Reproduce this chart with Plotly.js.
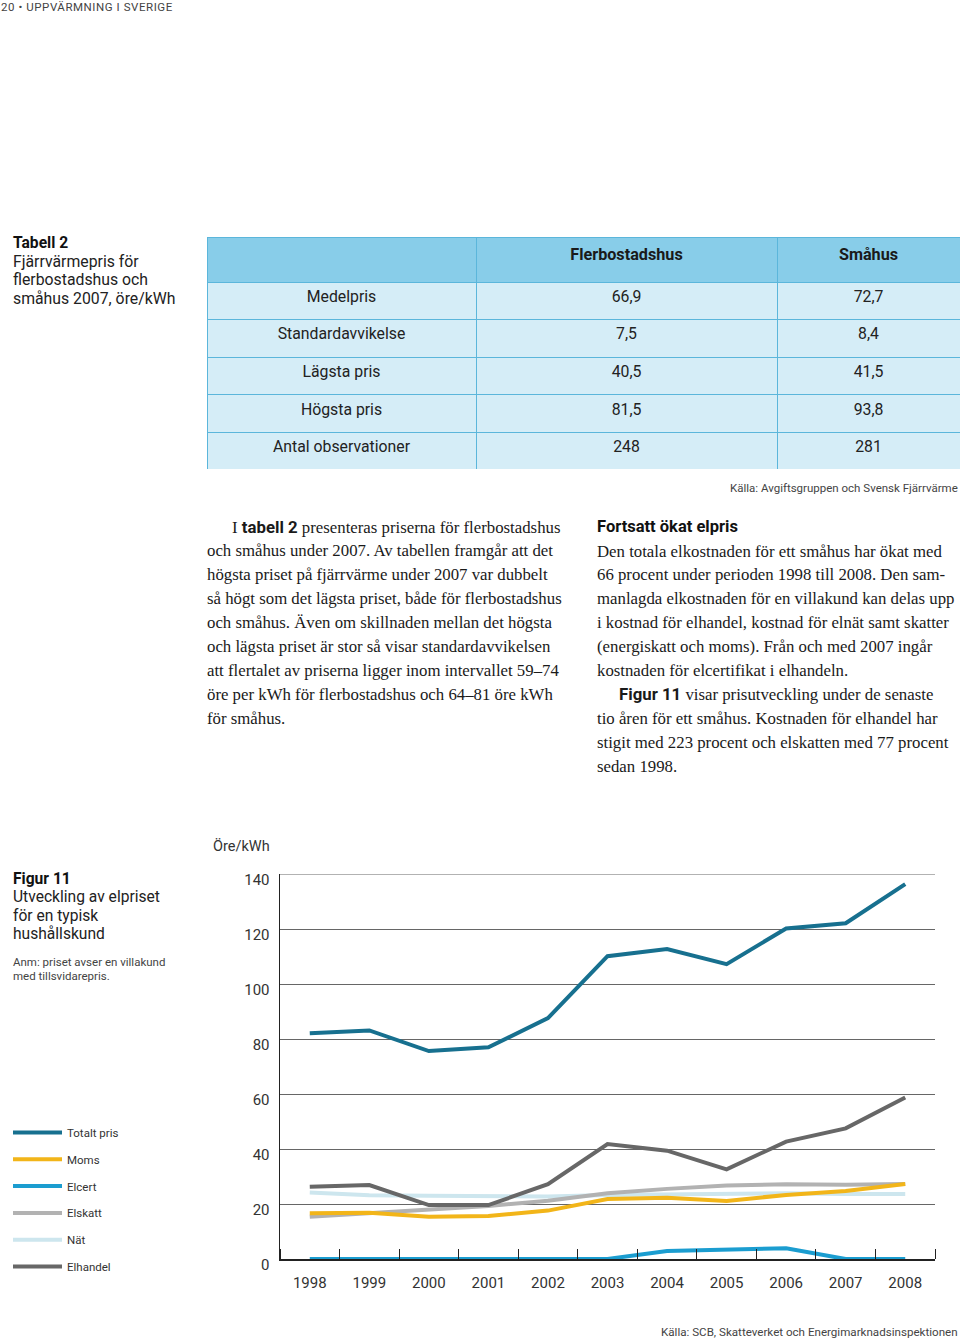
<!DOCTYPE html>
<html>
<head>
<meta charset="utf-8">
<script src="https://cdn.plot.ly/plotly-3.0.1.min.js"></script>
<style>html,body{margin:0;padding:0;background:#fff;}#chart{width:960px;height:1340px;}</style>
</head>
<body>
<div id="chart"></div>
<script>
// ---------- Data ----------
const years = [1998,1999,2000,2001,2002,2003,2004,2005,2006,2007,2008];
const totaltPris = [82.1,83.1,75.6,77.0,87.6,110.1,112.7,107.2,120.2,122.1,136.3];
const moms      = [16.6,16.8,15.4,15.6,17.6,21.8,22.3,21.1,23.3,24.7,27.3];
const elcert    = [0,0,0,0,0,0,2.9,3.5,3.9,0,0];
const elskatt   = [15.4,16.8,18.1,19.3,21.2,23.9,25.5,26.7,27.2,27.0,27.3];
const nat       = [24.2,23.2,23.0,22.8,22.7,23.3,23.5,23.9,23.9,23.6,23.6];
const elhandel  = [26.3,26.9,19.6,19.6,27.2,41.8,39.4,32.6,42.7,47.5,58.7];
const yTicks    = [0,20,40,60,80,100,120,140];

const tableHeader = ['', 'Flerbostadshus', 'Småhus'];
const tableRowLabels = ['Medelpris','Standardavvikelse','Lägsta pris','Högsta pris','Antal observationer'];
const tableFler = ['66,9','7,5','40,5','81,5','248'];
const tableSmahus = ['72,7','8,4','41,5','93,8','281'];

const leftParagraph = [
  'I <span style="font-family:Roboto;font-weight:bold">tabell 2</span> presenteras priserna för flerbostadshus',
  'och småhus under 2007. Av tabellen framgår att det',
  'högsta priset på fjärrvärme under 2007 var dubbelt',
  'så högt som det lägsta priset, både för flerbostadshus',
  'och småhus. Även om skillnaden mellan det högsta',
  'och lägsta priset är stor så visar standardavvikelsen',
  'att flertalet av priserna ligger inom intervallet 59–74',
  'öre per kWh för flerbostadshus och 64–81 öre kWh',
  'för småhus.'
];
const rightParagraph = [
  'Den totala elkostnaden för ett småhus har ökat med',
  '66 procent under perioden 1998 till 2008. Den sam-',
  'manlagda elkostnaden för en villakund kan delas upp',
  'i kostnad för elhandel, kostnad för elnät samt skatter',
  '(energiskatt och moms). Från och med 2007 ingår',
  'kostnaden för elcertifikat i elhandeln.',
  '<span style="font-family:Roboto;font-weight:bold">Figur 11</span> visar prisutveckling under de senaste',
  'tio åren för ett småhus. Kostnaden för elhandel har',
  'stigit med 223 procent och elskatten med 77 procent',
  'sedan 1998.'
];
const tableCaption = ['Fjärrvärmepris för','flerbostadshus och','småhus 2007, öre/kWh'];
const figCaption = ['Utveckling av elpriset','för en typisk','hushållskund'];
const figNote = ['Anm: priset avser en villakund','med tillsvidarepris.'];

// ---------- Layout helpers ----------
const W = 960, H = 1340;
const px = x => x / W;
const py = y => 1 - y / H;
const SANS = 'Roboto, "Liberation Sans", sans-serif';
const SERIF = '"Liberation Serif", "DejaVu Serif", serif';
const annotations = [];
function ann(text, x, y, size, opts) {
  opts = opts || {};
  annotations.push({
    text: text, x: px(x), y: py(y), xref: 'paper', yref: 'paper',
    xanchor: opts.xanchor || 'left', yanchor: 'middle', showarrow: false,
    font: {family: opts.family || SANS, size: size, color: opts.color || '#222', weight: opts.weight || 'normal'}
  });
}

// page header
ann('<span style="letter-spacing:0.55px">20 • UPPVÄRMNING I SVERIGE</span>', -1, 7, 11.5, {color: '#444'});

// table caption
ann('Tabell 2', 11, 243, 15.6, {weight: 'bold', color: '#111'});
tableCaption.forEach((t, i) => ann(t, 11, 261 + i * 18.5, 15.8, {color: '#222'}));
ann('Källa: Avgiftsgruppen och Svensk Fjärrvärme', 960, 488, 11.5, {xanchor: 'right', color: '#444'});

// body text
const BODY = 16.8;
leftParagraph.forEach((t, i) => ann(t, i === 0 ? 230 : 205, 527 + i * 23.9, BODY, {family: SERIF, color: '#1a1a1a'}));
ann('Fortsatt ökat elpris', 595, 527, 16.5, {weight: 'bold', color: '#111'});
rightParagraph.forEach((t, i) => ann(t, i === 6 ? 617 : 595, 551 + i * 23.9, BODY, {family: SERIF, color: '#1a1a1a'}));

// figure caption
ann('Figur 11', 11, 879, 15.6, {weight: 'bold', color: '#111'});
figCaption.forEach((t, i) => ann(t, 11, 897 + i * 18.5, 15.6, {color: '#222'}));
figNote.forEach((t, i) => ann(t, 11, 962 + i * 13.5, 11.5, {color: '#444'}));
ann('Öre/kWh', 241, 847, 14.5, {xanchor: 'center', color: '#333'});
ann('Källa: SCB, Skatteverket och Energimarknadsinspektionen', 960, 1332, 11.6, {xanchor: 'right', color: '#444'});

// ---------- Traces ----------
const tableTrace = {
  type: 'table',
  domain: {x: [px(207), 1], y: [py(469), py(237)]},
  columnwidth: [269, 301, 183],
  header: {
    values: tableHeader.map(h => [h ? '<b>' + h + '</b>' : '']),
    fill: {color: '#88cde9'}, line: {color: '#5bb6db', width: 1},
    align: 'center', height: 45,
    font: {family: SANS, size: 16.2, color: '#1a1a1a'}
  },
  cells: {
    values: [tableRowLabels, tableFler, tableSmahus],
    fill: {color: '#d5edf7'}, line: {color: '#5bb6db', width: 1},
    align: 'center', height: 37.6,
    font: {family: SANS, size: 15.8, color: '#222'}
  }
};

function line(name, y, color, rank) {
  return {type: 'scatter', mode: 'lines', name: name, x: years, y: y,
    line: {color: color, width: 4}, legendrank: rank, legendgroup: name, hoverinfo: 'skip'};
}
const traces = [
  tableTrace,
  line('Nät', nat, '#cde6ee', 5),
  line('Elskatt', elskatt, '#b2b2b2', 4),
  line('Moms', moms, '#f2b519', 2),
  line('Elcert', elcert, '#1b9dd0', 3),
  line('Elhandel', elhandel, '#676767', 6),
  line('Totalt pris', totaltPris, '#17708f', 1)
];

const layout = {
  width: W, height: H, autosize: false,
  margin: {l: 0, r: 0, t: 0, b: 0},
  paper_bgcolor: '#fff', plot_bgcolor: '#fff',
  font: {family: SANS, color: '#222'},
  showlegend: true,
  legend: {
    x: px(8), xanchor: 'left', y: py(1118), yanchor: 'top',
    traceorder: 'grouped', tracegroupgap: 7.8, itemwidth: 49,
    font: {family: SANS, size: 11.5, color: '#333'}, bgcolor: 'rgba(0,0,0,0)'
  },
  xaxis: {
    domain: [px(280), px(935)], range: [1997.5, 2008.5],
    tickmode: 'linear', tick0: 1998, dtick: 1, ticks: '',
    ticklabelstandoff: 9,
    minor: {tickmode: 'linear', tick0: 1998.5, dtick: 1, ticks: 'inside', ticklen: 10, tickcolor: '#222', tickwidth: 1, showgrid: false},
    showline: true, linecolor: '#222', linewidth: 1.5, showgrid: false, zeroline: false,
    tickfont: {family: SANS, size: 15, color: '#333'}, fixedrange: true
  },
  yaxis: {
    domain: [py(1259), py(874)], range: [0, 140],
    tickmode: 'array', tickvals: yTicks, ticks: '',
    ticklabelstandoff: 6, ticklabelshift: 6,
    showline: true, linecolor: '#222', linewidth: 1.5,
    showgrid: true, gridcolor: '#666', gridwidth: 1, zeroline: false,
    tickfont: {family: SANS, size: 15, color: '#333'}, fixedrange: true
  },
  shapes: [{
    type: 'line', layer: 'below', xref: 'x domain', x0: 0, x1: 1,
    yref: 'y', y0: yTicks[yTicks.length - 1], y1: yTicks[yTicks.length - 1],
    line: {color: '#666', width: 1}
  }],
  annotations: annotations
};

Plotly.newPlot('chart', traces, layout, {staticPlot: true, displayModeBar: false});
</script>
</body>
</html>
